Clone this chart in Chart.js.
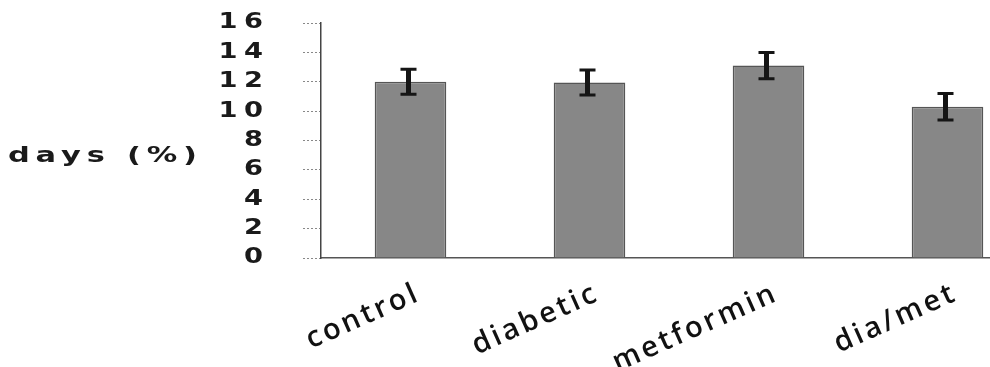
<!DOCTYPE html>
<html>
<head>
<meta charset="utf-8">
<script src="https://cdn.jsdelivr.net/npm/chart.js@4"></script>
<style>
  html, body { margin: 0; padding: 0; background: #fff; overflow: hidden; }
  .wrap { width: 1037px; height: 367px; position: relative; }
</style>
</head>
<body>
<div class="wrap"><canvas class="chartDays"></canvas></div>
<script>
// данные графика
const groups = ['control', 'diabetic', 'metformin', 'dia/met'];
const dayValues = [12.0, 11.95, 13.1, 10.3];
const dayErrors = [0.85, 0.85, 0.9, 0.9];
const yTicks = [0, 2, 4, 6, 8, 10, 12, 14, 16];
const yTitle = 'days (%)';

// широкий шрифт для подписей оси Y (растянутый по горизонтали)
function wideText(ctx, text, x, y, align, size, spacing, stretch) {
  ctx.save();
  ctx.font = 'bold ' + size + 'px "DejaVu Sans"';
  ctx.letterSpacing = spacing + 'px';
  ctx.fillStyle = '#1a1a1a';
  ctx.textBaseline = 'middle';
  ctx.textAlign = align;
  ctx.scale(stretch, 1);
  const shift = align === 'right' ? spacing * stretch : 0;
  ctx.fillText(text, (x + shift) / stretch, y);
  ctx.restore();
}

// планки погрешностей в виде буквы I
const errorBars = {
  id: 'errorBars',
  beforeDraw(chart) {
    chart.ctx.letterSpacing = '3px'; // разреженные подписи категорий
  },
  beforeDatasetsDraw(chart) {
    chart.ctx.letterSpacing = '0px';
  },
  afterDatasetsDraw(chart) {
    const ctx = chart.ctx;
    const y = chart.scales.y;
    const meta = chart.getDatasetMeta(0);
    ctx.save();
    ctx.strokeStyle = '#151515';
    meta.data.forEach((bar, i) => {
      const x = bar.x - 2;
      const top = y.getPixelForValue(dayValues[i] + dayErrors[i]);
      const bot = y.getPixelForValue(dayValues[i] - dayErrors[i]);
      ctx.lineWidth = 5;
      ctx.beginPath();
      ctx.moveTo(x, top); ctx.lineTo(x, bot);
      ctx.stroke();
      ctx.lineWidth = 3;
      ctx.beginPath();
      ctx.moveTo(x - 8, top); ctx.lineTo(x + 8, top);
      ctx.moveTo(x - 8, bot); ctx.lineTo(x + 8, bot);
      ctx.stroke();
    });
    ctx.restore();
  }
};

// подписи делений оси Y и горизонтальное название оси слева
const yLabels = {
  id: 'yLabels',
  afterDraw(chart) {
    const ctx = chart.ctx;
    const y = chart.scales.y;
    yTicks.forEach(v => {
      wideText(ctx, String(v), 263, y.getPixelForValue(v), 'right', 21, 5, 1.3);
    });
    wideText(ctx, yTitle, 8, 157, 'left', 21, 4, 1.45);
  }
};

new Chart(document.querySelector('.chartDays'), {
  type: 'bar',
  data: {
    labels: groups,
    datasets: [{
      data: dayValues,
      backgroundColor: '#878787',
      borderColor: '#555',
      borderWidth: 1.5,
      barPercentage: 0.4,
      categoryPercentage: 1
    }]
  },
  options: {
    responsive: true,
    maintainAspectRatio: false,
    animation: false,
    layout: { padding: { top: 23, right: 0, left: 0, bottom: 0 } },
    plugins: { legend: { display: false }, tooltip: { enabled: false } },
    scales: {
      x: {
        offset: true,
        grid: { display: false },
        border: { display: true, color: '#555', width: 1.5, dash: [3, 1] },
        ticks: {
          color: '#111',
          font: { family: '"Open Sans"', size: 29, weight: '600' },
          minRotation: 24,
          maxRotation: 24,
          autoSkip: false,
          padding: 10,
          labelOffset: 8
        },
        afterFit(scale) { scale.height = 109; }
      },
      y: {
        min: 0,
        max: 16,
        afterBuildTicks(scale) { scale.ticks = yTicks.map(v => ({ value: v })); },
        grid: {
          drawOnChartArea: false,
          drawTicks: true,
          tickLength: 18,
          tickColor: '#888',
          tickBorderDash: [2, 2]
        },
        border: { display: true, color: '#444', width: 1.5 },
        ticks: { display: false },
        afterFit(scale) { scale.width = 321; }
      }
    }
  },
  plugins: [errorBars, yLabels]
});
</script>
</body>
</html>
